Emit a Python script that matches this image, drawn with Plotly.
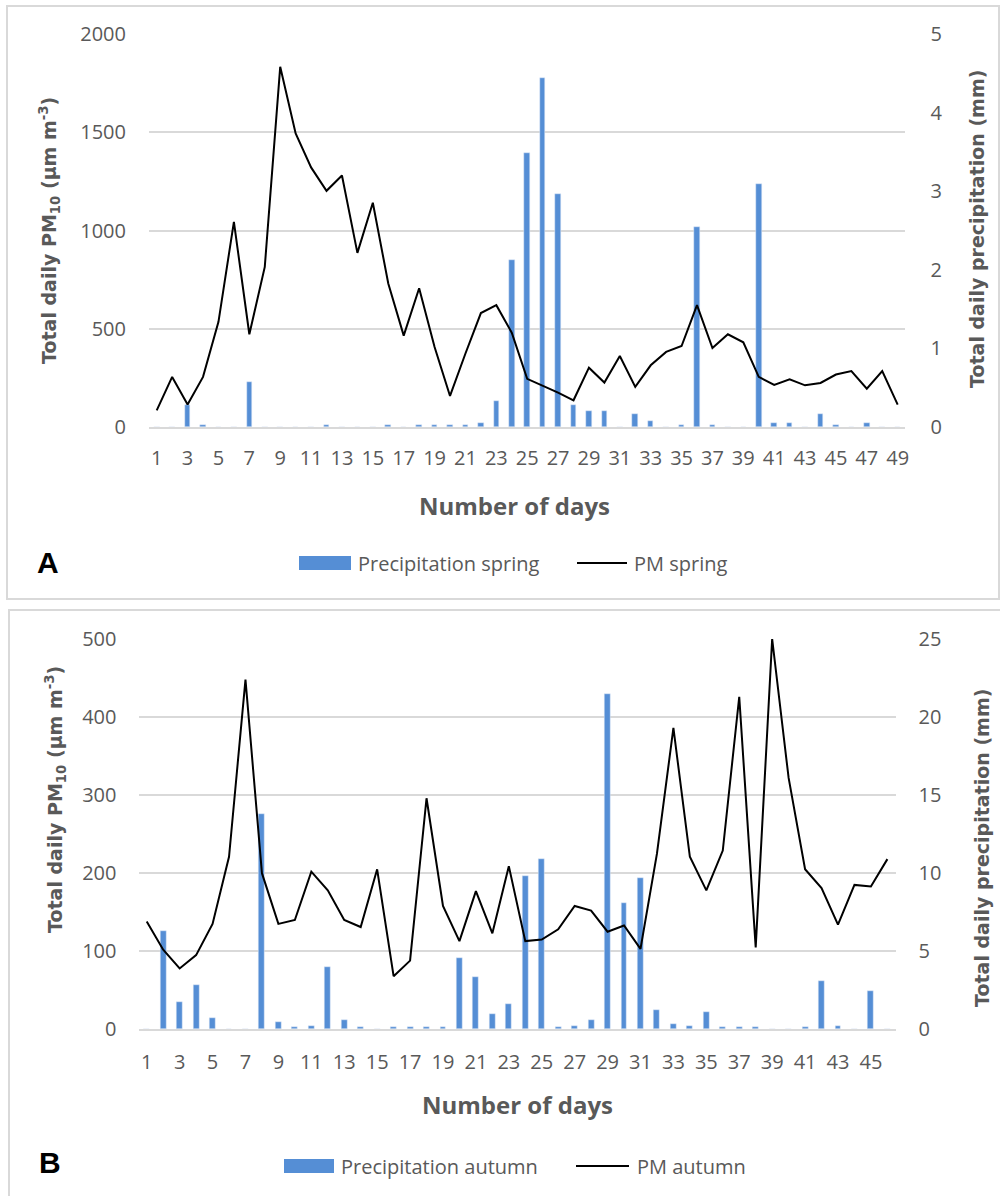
import plotly.graph_objects as go

# ---------------- data ----------------
days_spring = list(range(1, 50))
pm_spring = [85, 255, 115, 255, 535, 1044, 472, 815, 1833, 1494, 1321, 1202, 1280, 886, 1141,
             730, 465, 706, 407, 158, 374, 580, 620, 480, 245, 212, 175, 136, 302, 226, 361,
             204, 314, 382, 412, 620, 402, 472, 431, 255, 214, 243, 212, 224, 267, 285, 195,
             285, 114]
precip_spring = [0, 0, 0.28, 0.03, 0, 0, 0.57, 0, 0, 0, 0, 0.03, 0, 0, 0, 0.03, 0, 0.03, 0.03,
                 0.03, 0.03, 0.05, 0.33, 2.13, 3.48, 4.44, 2.96, 0.28, 0.2, 0.2, 0, 0.17, 0.08, 0,
                 0.03, 2.54, 0.03, 0, 0, 3.09, 0.05, 0.05, 0, 0.17, 0.03, 0, 0.05, 0, 0]

days_autumn = list(range(1, 47))
pm_autumn = [138, 102, 78, 95, 135, 221, 448, 200, 135, 140, 202, 178, 140, 131, 205, 68, 88,
             296, 158, 113, 177, 123, 209, 113, 115, 128, 158, 152, 125, 133, 103, 225, 386,
             221, 178, 229, 426, 105, 500, 322, 205, 181, 134, 185, 183, 218]
precip_autumn = [0, 6.3, 1.73, 2.84, 0.74, 0, 0, 13.77, 0.47, 0.13, 0.23, 3.97, 0.6, 0.13, 0,
                 0.13, 0.13, 0.13, 0.13, 4.59, 3.35, 1.0, 1.62, 9.8, 10.93, 0.13, 0.23, 0.62,
                 21.48, 8.07, 9.67, 1.24, 0.34, 0.23, 1.11, 0.13, 0.13, 0.13, 0, 0, 0.13, 3.1,
                 0.23, 0, 2.47, 0]

ticks_spring = list(range(1, 50, 2))
ticks_autumn = list(range(1, 46, 2))

BLUE = "#558ed5"
GREY = "#595959"
GRID = "#d9d9d9"
W, H = 1000, 1196


def px(x):
    return x / W


def py(y):
    return 1 - y / H


fig = go.Figure()

# top panel
fig.add_trace(go.Bar(x=days_spring, y=precip_spring, marker_color=BLUE, width=0.36,
                     name="Precipitation spring", xaxis="x", yaxis="y", showlegend=False))
fig.add_trace(go.Scatter(x=days_spring, y=pm_spring, mode="lines",
                         line=dict(color="black", width=2), name="PM spring",
                         xaxis="x", yaxis="y2", showlegend=False))
# bottom panel
fig.add_trace(go.Bar(x=days_autumn, y=precip_autumn, marker_color=BLUE, width=0.36,
                     name="Precipitation autumn", xaxis="x2", yaxis="y3", showlegend=False))
fig.add_trace(go.Scatter(x=days_autumn, y=pm_autumn, mode="lines",
                         line=dict(color="black", width=2), name="PM autumn",
                         xaxis="x2", yaxis="y4", showlegend=False))

tickfont = dict(family="Open Sans", size=20, color=GREY)

top_dom = [py(427), py(34)]
bot_dom = [py(1029.3), py(639)]

fig.update_layout(
    width=W, height=H,
    margin=dict(l=0, r=0, t=0, b=0, autoexpand=False),
    paper_bgcolor="white", plot_bgcolor="white",
    bargap=0,
    xaxis=dict(domain=[px(149), px(905.4)], anchor="y", range=[0.5, 49.5], automargin=False,
               tickmode="array", tickvals=ticks_spring, ticktext=[str(t) for t in ticks_spring],
               showgrid=False, zeroline=False, showline=True, linecolor=GRID, linewidth=1.5,
               ticks="", ticklabelstandoff=12, tickfont=tickfont),
    yaxis=dict(domain=top_dom, anchor="x", side="right", range=[0, 5], dtick=1, automargin=False,
               showgrid=False, zeroline=False, ticks="", ticklabelstandoff=24, tickfont=tickfont),
    yaxis2=dict(domain=top_dom, anchor="x", overlaying="y", side="left", range=[0, 2000],
                dtick=500, showgrid=True, gridcolor=GRID, gridwidth=1.5, zeroline=False,
                automargin=False, ticks="", ticklabelstandoff=22, tickfont=tickfont),
    xaxis2=dict(domain=[px(138.5), px(895.6)], anchor="y3", range=[0.5, 46.5], automargin=False,
                tickmode="array", tickvals=ticks_autumn, ticktext=[str(t) for t in ticks_autumn],
                showgrid=False, zeroline=False, showline=True, linecolor=GRID, linewidth=1.5,
                ticks="", ticklabelstandoff=14, tickfont=tickfont),
    yaxis3=dict(domain=bot_dom, anchor="x2", side="right", range=[0, 25], dtick=5,
                automargin=False, showgrid=False, zeroline=False, ticks="",
                ticklabelstandoff=22, tickfont=tickfont),
    yaxis4=dict(domain=bot_dom, anchor="x2", overlaying="y3", side="left", range=[0, 500],
                dtick=100, showgrid=True, gridcolor=GRID, gridwidth=1.5, zeroline=False,
                automargin=False, ticks="", ticklabelstandoff=21, tickfont=tickfont),
)

shapes = []
# panel borders
shapes.append(dict(type="rect", xref="paper", yref="paper", x0=px(7), x1=px(999),
                   y0=py(599), y1=py(6), line=dict(color=GRID, width=2)))
shapes.append(dict(type="rect", xref="paper", yref="paper", x0=px(9), x1=px(1010),
                   y0=py(1210), y1=py(610), line=dict(color=GRID, width=2)))
# legend symbols
shapes.append(dict(type="rect", xref="paper", yref="paper", x0=px(299), x1=px(351),
                   y0=py(570), y1=py(556), fillcolor=BLUE, line=dict(width=0)))
shapes.append(dict(type="line", xref="paper", yref="paper", x0=px(577), x1=px(627),
                   y0=py(563), y1=py(563), line=dict(color="black", width=2)))
shapes.append(dict(type="rect", xref="paper", yref="paper", x0=px(284), x1=px(334),
                   y0=py(1173), y1=py(1159), fillcolor=BLUE, line=dict(width=0)))
shapes.append(dict(type="line", xref="paper", yref="paper", x0=px(576), x1=px(629),
                   y0=py(1166), y1=py(1166), line=dict(color="black", width=2)))
fig.update_layout(shapes=shapes)

legfont = dict(family="Open Sans", size=20, color=GREY)
titlefont = dict(family="DejaVu Sans", size=19, color=GREY)
rtitlefont = dict(family="DejaVu Sans", size=19, color=GREY)
xtitlefont = dict(family="Open Sans", size=24, color=GREY)


def ann(x, y, text, font, xanchor="center", textangle=0):
    return dict(xref="paper", yref="paper", x=px(x), y=py(y), text=text, showarrow=False,
                font=font, xanchor=xanchor, yanchor="middle", textangle=textangle)


annotations = [
    ann(356, 563, "Precipitation spring", legfont, "left"),
    ann(632, 563, "PM spring", legfont, "left"),
    ann(339, 1166, "Precipitation autumn", legfont, "left"),
    ann(635, 1166, "PM autumn", legfont, "left"),
    ann(514, 505, "<b>Number of days</b>", xtitlefont),
    ann(517, 1104, "<b>Number of days</b>", xtitlefont),
    ann(49, 231, "<b>Total daily PM<sub>10</sub> (µm m<sup>-3</sup>)</b>", titlefont, textangle=-90),
    ann(977, 229, "<b>Total daily precipitation (mm)</b>", rtitlefont, textangle=-90),
    ann(55, 800, "<b>Total daily PM<sub>10</sub> (µm m<sup>-3</sup>)</b>", titlefont, textangle=-90),
    ann(982, 848, "<b>Total daily precipitation (mm)</b>", rtitlefont, textangle=-90),
    ann(48, 562, "<b>A</b>", dict(family="Liberation Sans", size=30, color="black")),
    ann(50, 1162, "<b>B</b>", dict(family="Liberation Sans", size=30, color="black")),
]
fig.update_layout(annotations=annotations)

fig.write_html("out.html", config={"displayModeBar": False},
               post_script="document.body.style.margin='0';")
